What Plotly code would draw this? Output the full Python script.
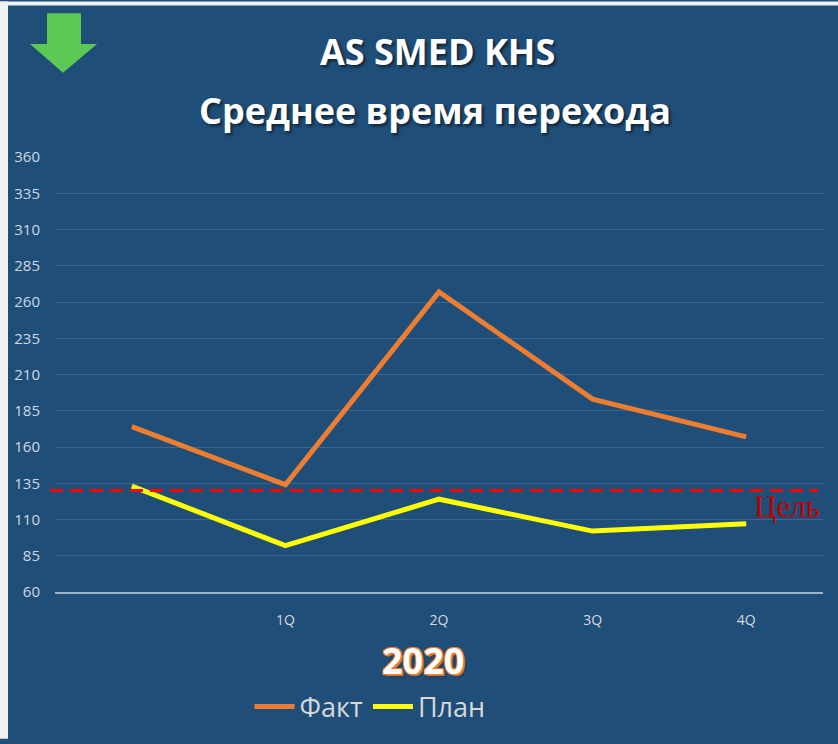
import plotly.graph_objects as go

# ---- data ----
CATEGORIES = [" ", "1Q", "2Q", "3Q", "4Q"]
FACT = [174, 134, 267, 193, 167]
PLAN = [133, 92, 124, 102, 107]
GOAL = 130
Y_TICKS = [60, 85, 110, 135, 160, 185, 210, 235, 260, 285, 310, 335, 360]
SERIES_NAMES = ["Факт", "План"]
TITLE_1 = "AS SMED KHS"
TITLE_2 = "Среднее время перехода"
YEAR = "2020"
GOAL_LABEL = "Цель"

W, H = 838, 744
ML, MR, MT, MB = 55, 15, 157, 148
PW = W - ML - MR
PH = H - MT - MB


def px_x(px):
    return (px - ML) / PW


def px_y(py):
    return (H - MB - py) / PH


BG = "#1F4E79"
ORANGE = "#ED7D31"
YELLOW = "#FFFF00"
FONT = "Open Sans"

fig = go.Figure()
fig.add_trace(go.Scatter(x=CATEGORIES, y=FACT, name=SERIES_NAMES[0], mode="lines",
                         line=dict(color=ORANGE, width=5)))
fig.add_trace(go.Scatter(x=CATEGORIES, y=PLAN, name=SERIES_NAMES[1], mode="lines",
                         line=dict(color=YELLOW, width=5)))

shapes = []
# outer light strips
shapes.append(dict(type="rect", xref="paper", yref="paper", x0=px_x(0), x1=px_x(8),
                   y0=px_y(H), y1=px_y(0), fillcolor="#F0F0F0", line=dict(width=0), layer="below"))
shapes.append(dict(type="rect", xref="paper", yref="paper", x0=px_x(0), x1=px_x(W),
                   y0=px_y(4), y1=px_y(0), fillcolor="#F0F0F0", line=dict(width=0), layer="below"))
# goal line
shapes.append(dict(type="line", xref="paper", yref="y", x0=px_x(50), x1=px_x(818),
                   y0=GOAL, y1=GOAL, line=dict(color="#FF0000", width=3, dash="13px,7px")))
# green arrow
pts = [(47, 12), (81, 12), (81, 43), (97, 43), (63, 72), (30, 43), (47, 43)]
path = "M " + " L ".join(f"{px_x(a):.5f},{px_y(b):.5f}" for a, b in pts) + " Z"
shapes.append(dict(type="path", xref="paper", yref="paper", path=path,
                   fillcolor="#5CC955", line=dict(width=0)))

shadow = "2px 2px 3px rgba(0,0,0,0.55)"
o = ORANGE
outline = f"-1px -1px 0 {o}, 1px -1px 0 {o}, -1px 1px 0 {o}, 1px 1px 0 {o}, 2px 2px 1px {o}, 3px 3px 2px rgba(0,0,0,0.3)"

annotations = [
    dict(text=TITLE_1, xref="paper", yref="paper", x=px_x(437), y=px_y(51),
         xanchor="center", yanchor="middle", showarrow=False,
         font=dict(family=FONT, size=36, color="white", weight="bold", shadow=shadow)),
    dict(text=TITLE_2, xref="paper", yref="paper", x=px_x(435), y=px_y(110),
         xanchor="center", yanchor="middle", showarrow=False,
         font=dict(family=FONT, size=36, color="white", weight="bold", shadow=shadow)),
    dict(text=YEAR, xref="paper", yref="paper", x=px_x(423), y=px_y(665),
         xanchor="center", yanchor="middle", showarrow=False,
         font=dict(family=FONT, size=36, color="white", weight="bold", shadow=outline)),
    dict(text=GOAL_LABEL, xref="paper", yref="paper", x=px_x(752), y=px_y(510),
         xanchor="left", yanchor="middle", showarrow=False,
         font=dict(family="Liberation Serif", size=31, color="#C00000")),
]

fig.update_layout(
    width=W, height=H,
    margin=dict(l=ML, r=MR, t=MT, b=MB),
    paper_bgcolor=BG, plot_bgcolor=BG,
    font=dict(family=FONT, color="#D9D9D9"),
    shapes=shapes,
    annotations=annotations,
    showlegend=True,
    legend=dict(orientation="h", x=px_x(370), y=px_y(712), xanchor="center", yanchor="middle",
                font=dict(family=FONT, size=27, color="#D9D9D9"), bgcolor="rgba(0,0,0,0)",
                itemwidth=40),
    xaxis=dict(type="category", categoryorder="array", categoryarray=CATEGORIES,
               range=[-0.5, 4.5], showgrid=False, zeroline=False,
               showline=True, linecolor="#9FB3C8", linewidth=2,
               ticks="", ticklabelstandoff=14,
               tickfont=dict(family=FONT, size=14, color="#D9D9D9")),
    yaxis=dict(range=[60, 360], tickvals=Y_TICKS, showgrid=True, gridcolor="#3A6690",
               gridwidth=1, zeroline=False, showline=False, ticks="", ticklabelstandoff=14,
               tickfont=dict(family=FONT, size=15, color="#D0D8E2")),
)

fig.write_html("out.html", config={"displayModeBar": False},
               post_script="document.body.style.margin='0';document.body.style.overflow='hidden';")
